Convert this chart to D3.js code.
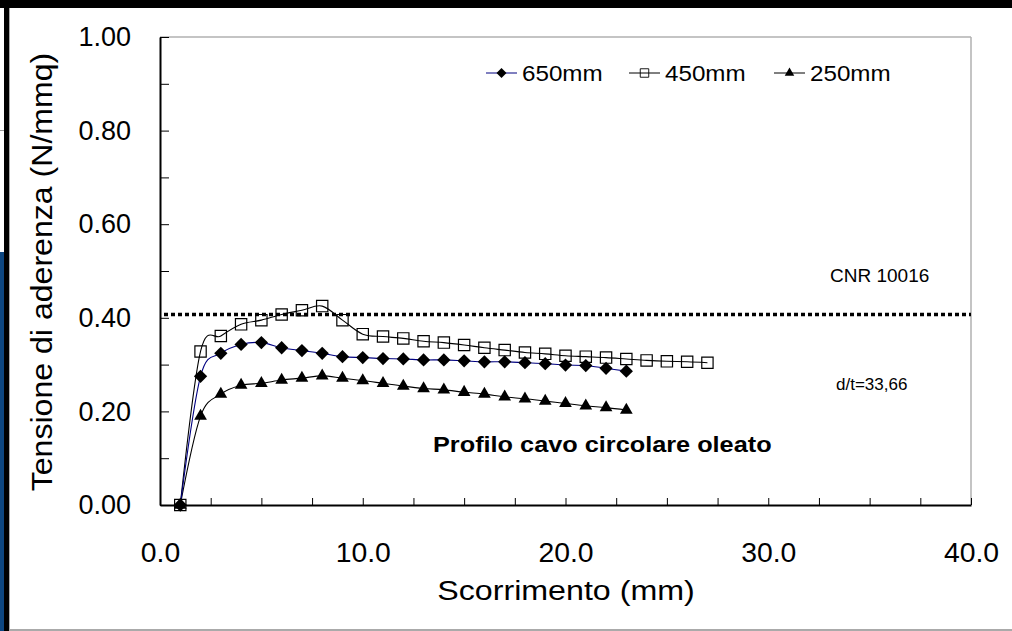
<!DOCTYPE html>
<html>
<head>
<meta charset="utf-8">
<script src="https://cdn.jsdelivr.net/npm/d3@7"></script>
<style>
  body { margin: 0; background: #fff; }
  svg { display: block; font-family: "Liberation Sans", Arial, sans-serif; }
</style>
</head>
<body>
<script>
// Data
const slip650 = [1, 2, 3, 4, 5, 6, 7, 8, 9, 10, 11, 12, 13, 14, 15, 16, 17, 18, 19, 20, 21, 22, 23];
const bond650 = [0, 0.275, 0.324, 0.343, 0.347, 0.336, 0.330, 0.324, 0.317, 0.315, 0.313, 0.312,
                 0.310, 0.310, 0.308, 0.306, 0.306, 0.304, 0.302, 0.299, 0.298, 0.292, 0.286];
const slip450 = [1, 2, 3, 4, 5, 6, 7, 8, 9, 10, 11, 12, 13, 14, 15, 16, 17, 18, 19, 20, 21, 22, 23, 24, 25, 26, 27];
const bond450 = [0, 0.328, 0.361, 0.386, 0.395, 0.407, 0.416, 0.425, 0.395, 0.365, 0.360, 0.356,
                 0.350, 0.347, 0.342, 0.336, 0.331, 0.326, 0.323, 0.319, 0.317, 0.315, 0.312,
                 0.309, 0.307, 0.306, 0.304];
const slip250 = [1, 2, 3, 4, 5, 6, 7, 8, 9, 10, 11, 12, 13, 14, 15, 16, 17, 18, 19, 20, 21, 22, 23];
const bond250 = [0, 0.190, 0.237, 0.256, 0.260, 0.267, 0.271, 0.276, 0.271, 0.266, 0.260, 0.254,
                 0.249, 0.246, 0.241, 0.237, 0.231, 0.227, 0.222, 0.217, 0.212, 0.208, 0.203];
const seriesNames = ["650mm", "450mm", "250mm"];
const cnrLimit = 0.407;
const xTicks = [0, 2.5, 5, 7.5, 10, 12.5, 15, 17.5, 20, 22.5, 25, 27.5, 30, 32.5, 35, 37.5, 40];
const yTicks = [0, 0.1, 0.2, 0.3, 0.4, 0.5, 0.6, 0.7, 0.8, 0.9, 1.0];

const width = 1012, height = 631;
const plot = { left: 160, right: 971, top: 37, bottom: 505 };

const svg = d3.select("body").append("svg")
    .attr("width", width)
    .attr("height", height);

// window frame bits round the chart
svg.append("rect").attr("x", 0).attr("y", 0).attr("width", width).attr("height", 8).attr("fill", "#000");
svg.append("rect").attr("x", 4).attr("y", 0).attr("width", 5).attr("height", height).attr("fill", "#000");
svg.append("rect").attr("x", 0).attr("y", 252).attr("width", 4).attr("height", height - 252).attr("fill", "#0d4680");
svg.append("line").attr("x1", 0).attr("x2", 4).attr("y1", 130.5).attr("y2", 130.5).attr("stroke", "#999");
svg.append("rect").attr("x", 9).attr("y", 8).attr("width", 1).attr("height", height).attr("fill", "#aaa");
svg.append("rect").attr("x", 9).attr("y", 629).attr("width", width).attr("height", 2).attr("fill", "#aaa");

const x = d3.scaleLinear().domain([0, 40]).range([plot.left, plot.right]);
const y = d3.scaleLinear().domain([0, 1]).range([plot.bottom, plot.top]);

// top and right frame in grey
svg.append("line").attr("x1", plot.left).attr("x2", plot.right).attr("y1", plot.top).attr("y2", plot.top)
    .attr("stroke", "#b0b0b0").attr("stroke-width", 1.5);
svg.append("line").attr("x1", plot.right).attr("x2", plot.right).attr("y1", plot.top).attr("y2", plot.bottom)
    .attr("stroke", "#b0b0b0").attr("stroke-width", 1.5);

// axes
const yAxis = svg.append("g")
    .attr("transform", `translate(${plot.left},0)`)
    .call(d3.axisLeft(y).tickValues(yTicks).tickSizeInner(-9).tickSizeOuter(0).tickPadding(29)
        .tickFormat(d => Math.round(d * 10) % 2 === 0 ? d3.format(".2f")(d) : ""));
const xAxis = svg.append("g")
    .attr("transform", `translate(0,${plot.bottom})`)
    .call(d3.axisBottom(x).tickValues(xTicks).tickSizeInner(-7).tickSizeOuter(0).tickPadding(38)
        .tickFormat(d => d % 10 === 0 ? d3.format(".1f")(d) : ""));

[yAxis, xAxis].forEach(g => {
    g.select(".domain").attr("stroke", "#000").attr("stroke-width", 2);
    g.selectAll(".tick line").attr("stroke", "#000").attr("stroke-width", 1);
    g.selectAll("text").attr("font-size", 27).attr("fill", "#000")
        .attr("font-family", "Liberation Sans, Arial, sans-serif");
});
xAxis.selectAll("text").attr("transform", "scale(1.05,1)");

// axis titles
svg.append("text")
    .attr("transform", "translate(566,600) scale(1.15,1)")
    .attr("text-anchor", "middle")
    .attr("font-size", 28)
    .text("Scorrimento (mm)");
svg.append("text")
    .attr("transform", "translate(52,272) rotate(-90) scale(1.07,1)")
    .attr("text-anchor", "middle")
    .attr("font-size", 30)
    .text("Tensione di aderenza (N/mmq)");

// CNR reference line
svg.append("line")
    .attr("x1", x(0) + 4).attr("x2", x(40))
    .attr("y1", y(cnrLimit)).attr("y2", y(cnrLimit))
    .attr("stroke", "#000").attr("stroke-width", 3.5)
    .attr("stroke-dasharray", "4,3");

// series
const series = [
    { name: seriesNames[0], xs: slip650, ys: bond650, color: "#000080", shape: "diamond" },
    { name: seriesNames[1], xs: slip450, ys: bond450, color: "#000", shape: "square" },
    { name: seriesNames[2], xs: slip250, ys: bond250, color: "#000", shape: "triangle" }
];

function marker(g, shape) {
    if (shape === "diamond") {
        g.append("path").attr("d", d3.symbol(d3.symbolSquare, 88)())
            .attr("transform", "rotate(45)").attr("fill", "#000");
    } else if (shape === "square") {
        g.append("path").attr("d", d3.symbol(d3.symbolSquare, 128)())
            .attr("fill", "none").attr("stroke", "#000").attr("stroke-width", 1.2);
    } else {
        g.append("path").attr("d", d3.symbol(d3.symbolTriangle, 70)())
            .attr("fill", "#000");
    }
}

const line = d3.line()
    .x(d => x(d[0]))
    .y(d => y(d[1]))
    .curve(d3.curveCardinal.tension(0));

// draw lines first, then markers on top
series.slice().reverse().forEach(s => {
    const pts = s.xs.map((v, i) => [v, s.ys[i]]);
    svg.append("path")
        .datum(pts)
        .attr("d", line)
        .attr("fill", "none")
        .attr("stroke", s.color)
        .attr("stroke-width", 1.1);
});
series.slice().reverse().forEach(s => {
    s.xs.forEach((v, i) => {
        const g = svg.append("g").attr("transform", `translate(${x(v)},${y(s.ys[i])})`);
        marker(g, s.shape);
    });
});

// legend
const legendX = [486, 629, 774];
series.forEach((s, i) => {
    const g = svg.append("g").attr("transform", `translate(${legendX[i]},73)`);
    g.append("line").attr("x1", 0).attr("x2", 31).attr("y1", 0).attr("y2", 0)
        .attr("stroke", s.color).attr("stroke-width", 1);
    const m = g.append("g").attr("transform", "translate(15.5,0) scale(0.75)");
    marker(m, s.shape);
    g.append("text")
        .attr("transform", "translate(36,8) scale(1.1,1)")
        .attr("font-size", 22)
        .text(s.name);
});

// annotations
svg.append("text")
    .attr("transform", "translate(830,282)")
    .attr("font-size", 19)
    .text("CNR 10016");
svg.append("text")
    .attr("transform", "translate(836,390)")
    .attr("font-size", 17)
    .text("d/t=33,66");
svg.append("text")
    .attr("transform", "translate(433,452) scale(1.15,1)")
    .attr("font-size", 22)
    .attr("font-weight", "bold")
    .text("Profilo cavo circolare oleato");
</script>
</body>
</html>
